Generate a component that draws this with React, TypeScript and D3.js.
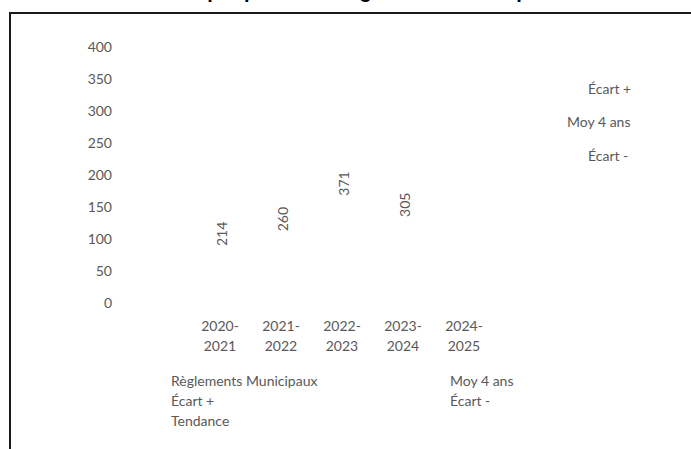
import React from "react";
import * as d3 from "d3";

const categories = ["2020-2021", "2021-2022", "2022-2023", "2023-2024", "2024-2025"];
const values: (number | null)[] = [214, 260, 371, 305, null];
const yTicks = [0, 50, 100, 150, 200, 250, 300, 350, 400];
const bottomLegendLeft = ["Règlements Municipaux", "Écart +", "Tendance"];
const bottomLegendRight = ["Moy 4 ans", "Écart -"];
const rightLegend = ["Écart +", "Moy 4 ans", "Écart -"];
const title = "Dossiers par période - Règlements Municipaux";

const W = 691;
const H = 449;
const FONT = "Lato, 'Open Sans', sans-serif";
const GREY = "#595959";

export default function App() {
  const y = d3.scaleLinear().domain([0, 400]).range([302.5, 46]);
  const x = d3
    .scaleBand<string>()
    .domain(categories)
    .range([189.5, 494.5])
    .paddingInner(0.3)
    .paddingOuter(0.15);
  const cx = (c: string) => (x(c) ?? 0) + x.bandwidth() / 2;

  return (
    <svg
      width={W}
      height={H}
      style={{ position: "absolute", left: 0, top: 0, background: "#fff" }}
      fontFamily={FONT}
    >
      <rect x={0} y={0} width={W} height={H} fill="#fff" />
      {/* title (cut off by the top edge, as in the reference) */}
      <text
        x={340}
        y={-2}
        textAnchor="middle"
        fontFamily="'Liberation Sans', Arial, sans-serif"
        fontWeight="bold"
        fontSize={20}
        fill="#000"
      >
        {title}
      </text>
      {/* frame */}
      <path d={`M10,${H} V13 H${W}`} fill="none" stroke="#1a1a1a" strokeWidth={2} />

      {/* y tick labels */}
      {yTicks.map((t) => (
        <text
          key={t}
          x={112}
          y={y(t)}
          textAnchor="end"
          dominantBaseline="central"
          fontSize={14}
          fill={GREY}
        >
          {t}
        </text>
      ))}

      {/* invisible bars */}
      {categories.map((c, i) =>
        values[i] == null ? null : (
          <rect
            key={"b" + c}
            x={x(c)}
            y={y(values[i] as number)}
            width={x.bandwidth()}
            height={y(0) - y(values[i] as number)}
            fill="none"
          />
        )
      )}

      {/* data labels */}
      {categories.map((c, i) => {
        const v = values[i];
        if (v == null) return null;
        const lx = cx(c) + 1.5;
        const ly = y(v / 2);
        return (
          <text
            key={"l" + c}
            transform={`translate(${lx},${ly}) rotate(-90)`}
            textAnchor="middle"
            dominantBaseline="central"
            fontSize={14}
            fill={GREY}
          >
            {v}
          </text>
        );
      })}

      {/* category labels */}
      {categories.map((c) => {
        const [a, b] = c.split("-");
        return (
          <g key={"c" + c}>
            <text x={cx(c)} y={325} textAnchor="middle" dominantBaseline="central" fontSize={14} fill={GREY}>
              {a + "-"}
            </text>
            <text x={cx(c)} y={345} textAnchor="middle" dominantBaseline="central" fontSize={14} fill={GREY}>
              {b}
            </text>
          </g>
        );
      })}

      {/* bottom legend */}
      {bottomLegendLeft.map((t, i) => (
        <text key={"bl" + i} x={171} y={380 + i * 20} dominantBaseline="central" fontSize={14} fill={GREY}>
          {t}
        </text>
      ))}
      {bottomLegendRight.map((t, i) => (
        <text key={"br" + i} x={450} y={380 + i * 20} dominantBaseline="central" fontSize={14} fill={GREY}>
          {t}
        </text>
      ))}

      {/* right legend */}
      {rightLegend.map((t, i) => (
        <text
          key={"rl" + i}
          x={i === 1 ? 567 : 588}
          y={88 + i * 33.5}
          dominantBaseline="central"
          fontSize={14}
          fill={GREY}
        >
          {t}
        </text>
      ))}
    </svg>
  );
}
